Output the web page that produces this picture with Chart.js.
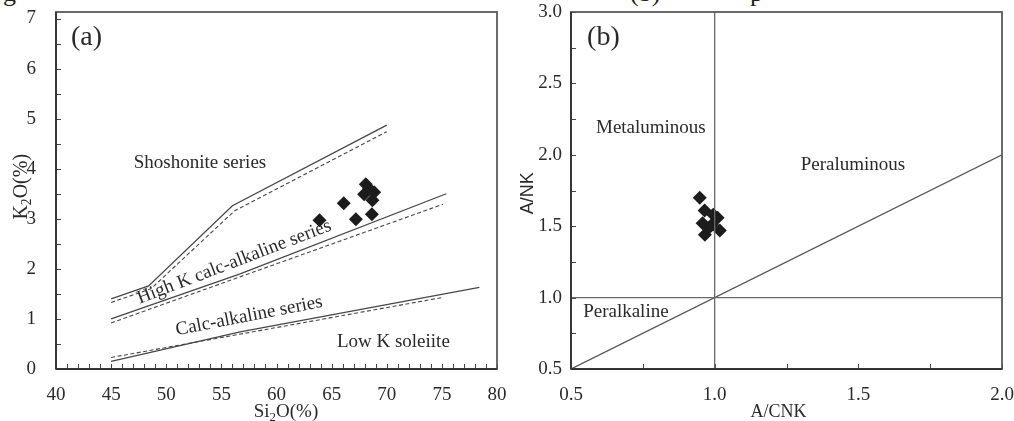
<!DOCTYPE html>
<html>
<head>
<meta charset="utf-8">
<script src="https://cdn.jsdelivr.net/npm/chart.js@4/dist/chart.umd.min.js"></script>
<style>
  html, body { margin: 0; padding: 0; background: #fff; width: 1014px; height: 421px; overflow: hidden; position: relative; }
  canvas { position: absolute; top: 0; }
  #chartA { left: 0; }
  #chartB { left: 500px; }
  .cap { position: absolute; top: -20px; font: 26px/26px "Liberation Serif", "Times New Roman", serif; color: #222; white-space: nowrap; }
</style>
</head>
<body>
<div class="cap" style="left:3px">g</div>
<div class="cap" style="left:630px">(b)</div>
<div class="cap" style="left:750px">p</div>
<canvas id="chartA" width="520" height="421"></canvas>
<canvas id="chartB" width="514" height="421"></canvas>
<script>
// ---- (a) K2O vs SiO2 sample compositions ----
const sio2 = [63.9, 66.1, 67.2, 68.65, 68.1, 67.95, 68.86, 68.7, 68.4];
const k2o  = [2.97, 3.31, 2.99, 3.09, 3.69, 3.49, 3.53, 3.37, 3.60];

// series boundaries (SiO2 %, K2O %)
const shoSolidX = [45, 48.4, 56, 70];
const shoSolidY = [1.40, 1.66, 3.26, 4.87];
const shoDashX  = [45, 48.6, 56.2, 70];
const shoDashY  = [1.33, 1.60, 3.16, 4.74];
const hkSolidX  = [45, 56.7, 75.4];
const hkSolidY  = [1.00, 1.90, 3.50];
const hkDashX   = [45, 75.1];
const hkDashY   = [0.92, 3.29];
const caSolidX  = [45, 56.7, 78.4];
const caSolidY  = [0.15, 0.74, 1.63];
const caDashX   = [45, 75.1];
const caDashY   = [0.23, 1.43];

// ---- (b) A/NK vs A/CNK sample compositions ----
const acnk = [0.948, 0.965, 1.010, 1.018, 0.958, 0.966, 0.990, 0.995, 0.980];
const anK  = [1.70, 1.61, 1.56, 1.47, 1.52, 1.44, 1.51, 1.58, 1.49];

// aluminium saturation dividing lines
const divVertX = [1.0, 1.0], divVertY = [0.5, 3.0];
const divHorzX = [0.5, 2.0], divHorzY = [1.0, 1.0];
const divDiagX = [0.5, 2.0], divDiagY = [0.5, 2.0];

// tick labels
const kTicks   = [0, 1, 2, 3, 4, 5, 6, 7];
const siTicks  = [40, 45, 50, 55, 60, 65, 70, 75, 80];
const anTicks  = [0.5, 1.0, 1.5, 2.0, 2.5, 3.0];
const acTicks  = [0.5, 1.0, 1.5, 2.0];

const SERIF = '"Liberation Serif", "Times New Roman", serif';
const SANS  = '"Liberation Sans", Arial, sans-serif';
const INK   = '#2a2a2a';

const pts = (xs, ys) => xs.map((x, i) => ({ x, y: ys[i] }));
const setTicks = list => scale => { scale.ticks = list.map(v => ({ value: v })); };
// fixed axis thickness; the layout padding alone decides the plot margins
const fixSize = (prop, px) => scale => {
  scale[prop] = px;
  scale.paddingTop = scale.paddingBottom = scale.paddingLeft = scale.paddingRight = 0;
};

function lineSet(xs, ys, dashed, color) {
  return {
    data: pts(xs, ys), showLine: true, pointRadius: 0, fill: false,
    borderColor: color || '#474747', borderWidth: dashed ? 1.1 : 1.3,
    borderDash: dashed ? [4, 2.5] : [], tension: 0
  };
}
function markerSet(xs, ys) {
  return {
    data: pts(xs, ys), showLine: false, pointStyle: 'rectRot',
    pointRadius: 7, pointHoverRadius: 7, backgroundColor: '#1c1c1c', borderWidth: 0
  };
}

// Text made of runs, where some runs are subscripts
function drawRuns(ctx, runs, size, family, x, y, align) {
  const widths = runs.map(r => {
    ctx.font = (r.sub ? size * 0.68 : size) + 'px ' + family;
    return ctx.measureText(r.t).width;
  });
  const total = widths.reduce((a, b) => a + b, 0);
  let cx = align === 'center' ? x - total / 2 : x;
  ctx.textAlign = 'left';
  ctx.textBaseline = 'alphabetic';
  runs.forEach((r, i) => {
    ctx.font = (r.sub ? size * 0.68 : size) + 'px ' + family;
    ctx.fillText(r.t, cx, y + (r.sub ? size * 0.2 : 0));
    cx += widths[i];
  });
}

// Frame, inward ticks, region names and axis titles
const diagramPlugin = {
  id: 'diagram',
  beforeDatasetsDraw(chart, args, o) {
    const { ctx, chartArea: a, scales: { x, y } } = chart;
    ctx.save();
    ctx.strokeStyle = '#444';
    ctx.lineWidth = 1;
    ctx.beginPath();
    for (let i = 0; o.tx.from + i * o.tx.step <= o.tx.to + 1e-9; i++) {
      const px = Math.round(x.getPixelForValue(o.tx.from + i * o.tx.step)) + 0.5;
      ctx.moveTo(px, a.bottom); ctx.lineTo(px, a.bottom - o.tickLen);
    }
    for (let i = 0; o.ty.from + i * o.ty.step <= o.ty.to + 1e-9; i++) {
      const py = Math.round(y.getPixelForValue(o.ty.from + i * o.ty.step)) + 0.5;
      ctx.moveTo(a.left, py); ctx.lineTo(a.left + o.tickLen, py);
    }
    ctx.stroke();
    ctx.restore();
  },
  afterDraw(chart, args, o) {
    const { ctx, chartArea: a, scales: { x, y } } = chart;
    ctx.save();
    // frame
    ctx.strokeStyle = '#5a5a5a';
    ctx.lineWidth = 1.8;
    ctx.strokeRect(a.left, a.top, a.right - a.left, a.bottom - a.top);
    ctx.strokeStyle = '#333';
    ctx.beginPath();
    ctx.moveTo(a.left, a.bottom); ctx.lineTo(a.right, a.bottom);
    ctx.moveTo(a.left, a.top); ctx.lineTo(a.left, a.bottom);
    ctx.stroke();

    ctx.fillStyle = INK;
    // region names
    o.notes.forEach(n => {
      ctx.save();
      ctx.translate(x.getPixelForValue(n.x), y.getPixelForValue(n.y));
      ctx.rotate((n.angle || 0) * Math.PI / 180);
      ctx.font = n.size + 'px ' + (n.family || SERIF);
      ctx.textAlign = n.align || 'center';
      ctx.textBaseline = n.baseline || 'middle';
      ctx.fillText(n.text, 0, 0);
      ctx.restore();
    });
    // axis titles
    const xt = o.xTitle;
    drawRuns(ctx, xt.runs, xt.size, xt.family || SERIF, x.getPixelForValue(xt.at), a.bottom + xt.dy, 'center');
    const yt = o.yTitle;
    ctx.save();
    ctx.translate(a.left - yt.dx, y.getPixelForValue(yt.at));
    ctx.rotate(-Math.PI / 2);
    drawRuns(ctx, yt.runs, yt.size, yt.family || SERIF, 0, 0, 'center');
    ctx.restore();
    ctx.restore();
  }
};

const tickFont = { family: SERIF, size: 19 };

// ---------- (a) ----------
new Chart(document.getElementById('chartA'), {
  type: 'scatter',
  data: {
    datasets: [
      lineSet(shoSolidX, shoSolidY, false),
      lineSet(shoDashX, shoDashY, true),
      lineSet(hkSolidX, hkSolidY, false),
      lineSet(hkDashX, hkDashY, true),
      lineSet(caSolidX, caSolidY, false),
      lineSet(caDashX, caDashY, true),
      markerSet(sio2, k2o)
    ]
  },
  options: {
    responsive: false, animation: false, events: [],
    layout: { padding: { top: 12, right: 23, left: 0, bottom: 0 } },
    plugins: {
      legend: { display: false }, tooltip: { enabled: false },
      diagram: {
        tickLen: 5,
        tx: { from: 40, to: 80, step: 1 },
        ty: { from: 0, to: 7, step: 0.5 },
        notes: [
          { text: '(a)', x: 41.36, y: 6.61, size: 28, align: 'left' },
          { text: 'Shoshonite series', x: 53.06, y: 4.11, size: 19 },
          { text: 'High K calc-alkaline series', x: 56.33, y: 2.04, size: 19, angle: -21, baseline: 'alphabetic' },
          { text: 'Calc-alkaline series', x: 57.6, y: 0.96, size: 19, angle: -11, baseline: 'alphabetic' },
          { text: 'Low K soleiite', x: 70.6, y: 0.54, size: 19 }
        ],
        xTitle: { runs: [{ t: 'Si' }, { t: '2', sub: true }, { t: 'O(%)' }], size: 19, at: 60.86, dy: 48 },
        yTitle: { runs: [{ t: 'K' }, { t: '2', sub: true }, { t: 'O(%)' }], size: 20, at: 3.64, dx: 29 }
      }
    },
    scales: {
      x: {
        type: 'linear', min: 40, max: 80,
        afterBuildTicks: setTicks(siTicks),
        afterFit: fixSize('height', 52),
        grid: { display: false, drawTicks: false },
        border: { display: false },
        ticks: { font: tickFont, color: INK, padding: 15, autoSkip: false, maxRotation: 0 }
      },
      y: {
        type: 'linear', min: 0, max: 7.13,
        afterBuildTicks: setTicks(kTicks),
        afterFit: fixSize('width', 56),
        grid: { display: false, drawTicks: false },
        border: { display: false },
        ticks: { font: tickFont, color: INK, padding: 20, autoSkip: false }
      }
    }
  },
  plugins: [diagramPlugin]
});

// ---------- (b) ----------
new Chart(document.getElementById('chartB'), {
  type: 'scatter',
  data: {
    datasets: [
      lineSet(divVertX, divVertY, false, '#6a6a6a'),
      lineSet(divHorzX, divHorzY, false, '#6a6a6a'),
      lineSet(divDiagX, divDiagY, false, '#555'),
      markerSet(acnk, anK)
    ]
  },
  options: {
    responsive: false, animation: false, events: [],
    layout: { padding: { top: 12, right: 12, left: 0, bottom: 0 } },
    plugins: {
      legend: { display: false }, tooltip: { enabled: false },
      diagram: {
        tickLen: 5,
        tx: { from: 0.5, to: 2.0, step: 0.25 },
        ty: { from: 0.5, to: 3.0, step: 0.25 },
        notes: [
          { text: '(b)', x: 0.556, y: 2.818, size: 28, align: 'left' },
          { text: 'Metaluminous', x: 0.778, y: 2.188, size: 19 },
          { text: 'Peraluminous', x: 1.481, y: 1.929, size: 19 },
          { text: 'Peralkaline', x: 0.691, y: 0.899, size: 19 }
        ],
        xTitle: { runs: [{ t: 'A/CNK' }], size: 18, at: 1.222, dy: 48 },
        yTitle: { runs: [{ t: 'A/NK' }], size: 18, family: SANS, at: 1.73, dx: 38 }
      }
    },
    scales: {
      x: {
        type: 'linear', min: 0.5, max: 2.0,
        afterBuildTicks: setTicks(acTicks),
        afterFit: fixSize('height', 52),
        grid: { display: false, drawTicks: false },
        border: { display: false },
        ticks: { font: tickFont, color: INK, padding: 15, autoSkip: false, maxRotation: 0,
                 callback: v => Number(v).toFixed(1) }
      },
      y: {
        type: 'linear', min: 0.5, max: 3.0,
        afterBuildTicks: setTicks(anTicks),
        afterFit: fixSize('width', 71),
        grid: { display: false, drawTicks: false },
        border: { display: false },
        ticks: { font: tickFont, color: INK, padding: 9, autoSkip: false,
                 callback: v => Number(v).toFixed(1) }
      }
    }
  },
  plugins: [diagramPlugin]
});
</script>
</body>
</html>
